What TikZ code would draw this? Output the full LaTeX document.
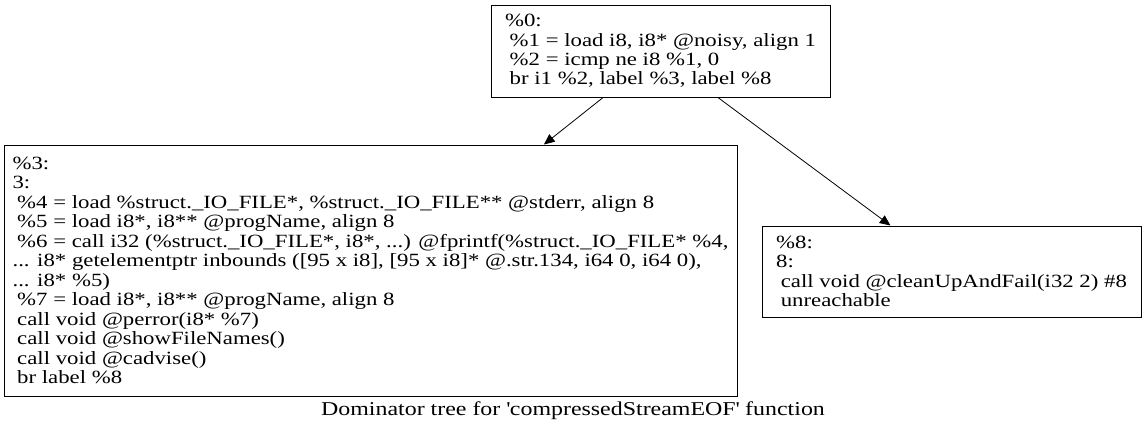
\documentclass[tikz,border=0pt]{standalone}
\usepackage{fontspec}
\setmainfont{Liberation Serif}[FakeStretch=1.22]
\usetikzlibrary{arrows.meta}

\newcommand\ind{\hspace*{0.25em}}

\begin{document}
\begin{tikzpicture}[x=0.75pt,y=-0.75pt,
    block/.style={draw,line width=0.75pt,align=left,inner sep=0pt,
                  font=\fontsize{14}{14.6}\selectfont},
    edge/.style={-{Triangle[length=8pt,width=7pt]},line width=0.6pt}]
    \useasboundingbox (0,0) rectangle (1146,433);

    \node[block,minimum width=254.25pt,minimum height=69pt] (b0) at (660.5,51)
        {\%0:\\
         \ind\%1 = load i8, i8* @noisy, align 1\\
         \ind\%2 = icmp ne i8 \%1, 0\\
         \ind br i1 \%2, label \%3, label \%8};

    \node[block,minimum width=549.75pt,minimum height=188.25pt] (b3) at (370.5,270.5)
        {\%3:\\
         3:\\
         \ind\%4 = load \%struct.\_IO\_FILE*, \%struct.\_IO\_FILE** @stderr, align 8\\
         \ind\%5 = load i8*, i8** @progName, align 8\\
         \ind\%6 = call i32 (\%struct.\_IO\_FILE*, i8*, ...) @fprintf(\%struct.\_IO\_FILE* \%4,\\
         ... i8* getelementptr inbounds ([95 x i8], [95 x i8]* @.str.134, i64 0, i64 0),\\
         ... i8* \%5)\\
         \ind\%7 = load i8*, i8** @progName, align 8\\
         \ind call void @perror(i8* \%7)\\
         \ind call void @showFileNames()\\
         \ind call void @cadvise()\\
         \ind br label \%8};

    \node[block,minimum width=284.25pt,minimum height=68.25pt] (b8) at (951.5,271.5)
        {\%8:\\
         8:\\
         \ind call void @cleanUpAndFail(i32 2) \#8\\
         \ind unreachable};

    \draw[edge] (b0.219.2) -- (b3.36.8);
    \draw[edge] (b0.321.3) -- (b8.143.5);

    \node[font=\fontsize{14.7}{15}\selectfont] (title) at (573,411)
        {Dominator tree for \textquotesingle compressedStreamEOF\textquotesingle\ function};

\end{tikzpicture}
\end{document}
